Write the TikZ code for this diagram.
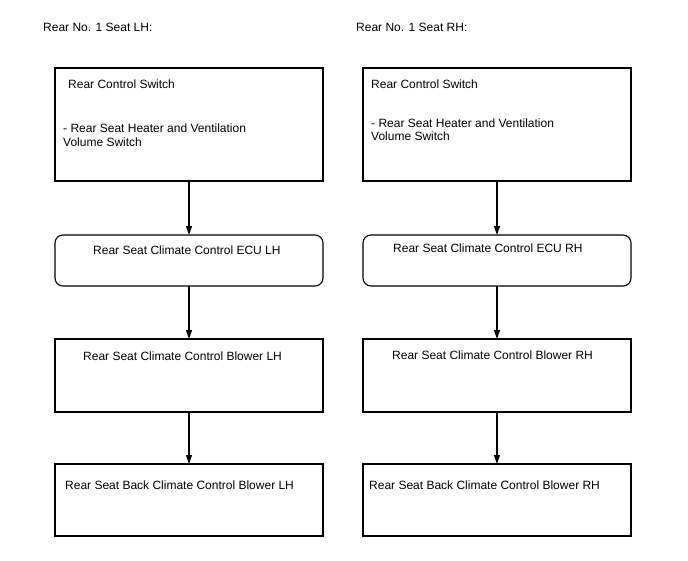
\documentclass[tikz,border=0pt]{standalone}
\usepackage{fontspec}
\setmainfont{Liberation Sans}
\usetikzlibrary{arrows.meta}
\tikzset{
  box/.style={draw, line width=1.1pt, rectangle, anchor=north west, minimum width=268pt, inner sep=0pt, outer sep=0pt},
  rbox/.style={box, rounded corners=8pt},
  txt/.style={anchor=base west, inner sep=0pt, font=\fontsize{12}{14}\selectfont},
  arr/.style={line width=1.1pt, -{Triangle[width=6pt,length=9pt]}}
}
\begin{document}
\begin{tikzpicture}[x=1pt,y=-1pt]
\useasboundingbox (0,0) rectangle (688,560);
% titles
\node[txt] (tl) at (43,31) {Rear No. 1 Seat LH:};
\node[txt] (tr) at (356,31) {Rear No. 1 Seat RH:};
% left column
\node[box, minimum height=113pt] (L1) at (55,68) {};
\node[rbox, minimum height=51pt] (L2) at (55,235) {};
\node[box, minimum height=73pt] (L3) at (55,339) {};
\node[box, minimum height=72pt] (L4) at (55,464) {};
% right column
\node[box, minimum height=113pt] (R1) at (363,68) {};
\node[rbox, minimum height=51pt] (R2) at (363,235) {};
\node[box, minimum height=73pt] (R3) at (363,339) {};
\node[box, minimum height=72pt] (R4) at (363,464) {};
% texts left
\node[txt] (l1a) at (68,88) {Rear Control Switch};
\node[txt] (l1b) at (63,132) {- Rear Seat Heater and Ventilation};
\node[txt] (l1c) at (63,146) {Volume Switch};
\node[txt] (l2) at (93,254) {Rear Seat Climate Control ECU LH};
\node[txt] (l3) at (83,360) {Rear Seat Climate Control Blower LH};
\node[txt] (l4) at (65,489) {Rear Seat Back Climate Control Blower LH};
% texts right
\node[txt] (r1a) at (371,88) {Rear Control Switch};
\node[txt] (r1b) at (371,127) {- Rear Seat Heater and Ventilation};
\node[txt] (r1c) at (371,140) {Volume Switch};
\node[txt] (r2) at (393,252) {Rear Seat Climate Control ECU RH};
\node[txt] (r3) at (392,359) {Rear Seat Climate Control Blower RH};
\node[txt] (r4) at (369,489) {Rear Seat Back Climate Control Blower RH};
% arrows
\draw[arr] (L1.south) -- (L2.north);
\draw[arr] (L2.south) -- (L3.north);
\draw[arr] (L3.south) -- (L4.north);
\draw[arr] (R1.south) -- (R2.north);
\draw[arr] (R2.south) -- (R3.north);
\draw[arr] (R3.south) -- (R4.north);
\end{tikzpicture}
\end{document}
